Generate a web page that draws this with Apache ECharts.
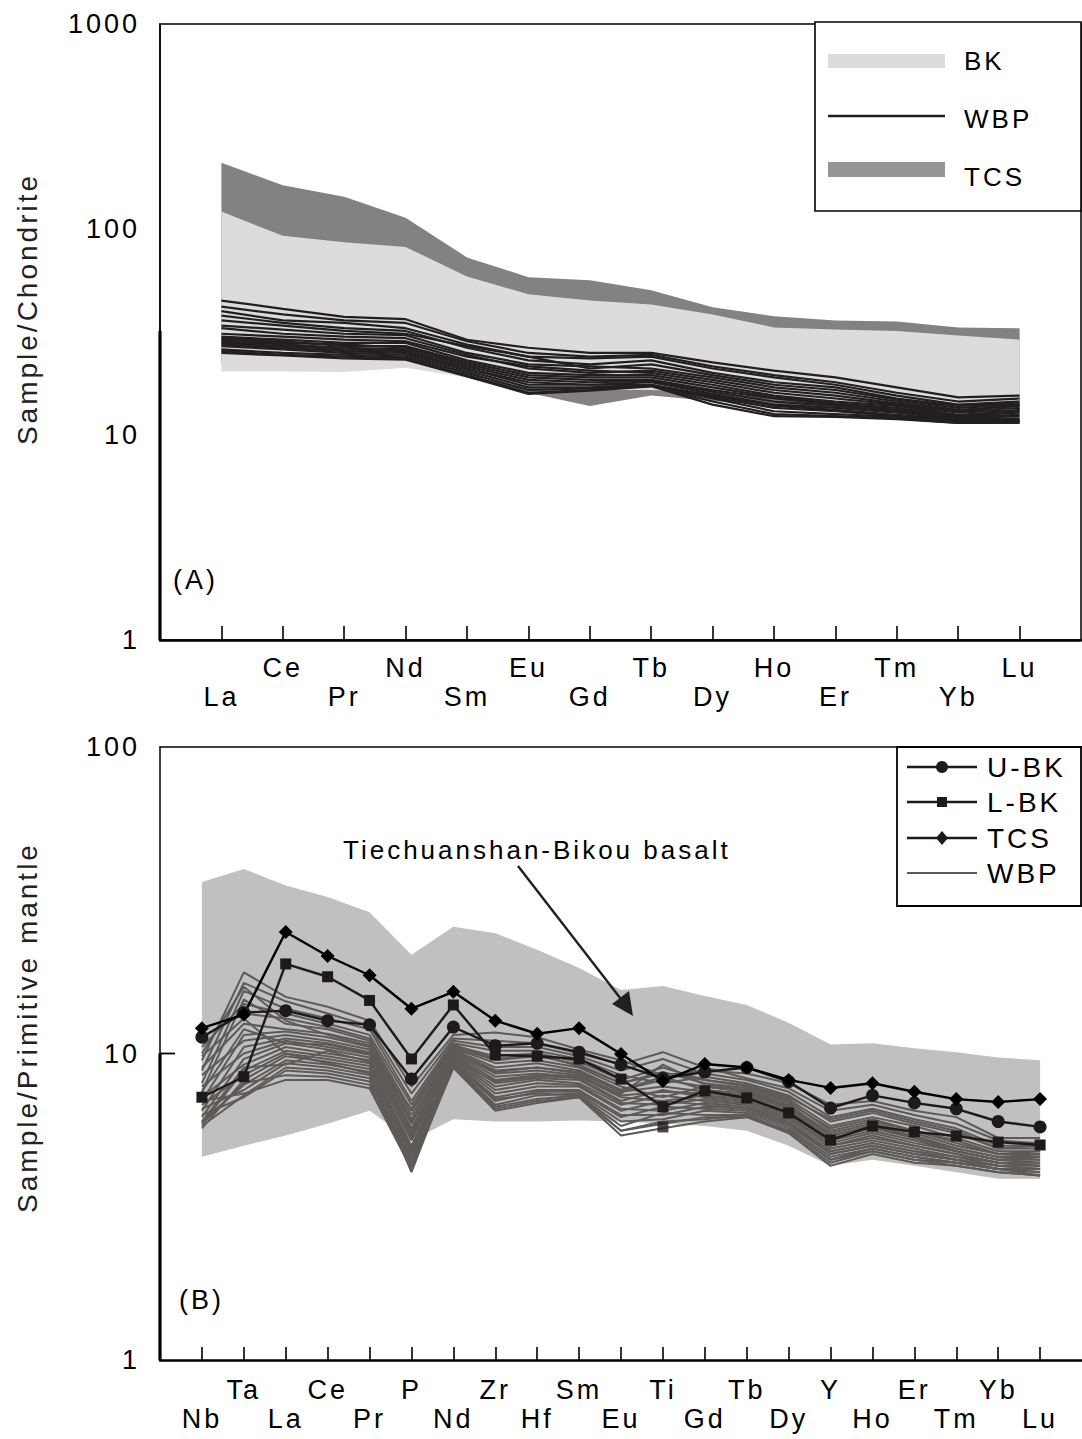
<!DOCTYPE html>
<html><head><meta charset="utf-8">
<script src="https://cdn.jsdelivr.net/npm/echarts@6.0.0/dist/echarts.min.js"></script>
<style>html,body{margin:0;padding:0;background:#fff}#c{width:1082px;height:1439px}#c text{letter-spacing:3px}</style>
</head><body><div id="c"></div><script>
// ---------- Chart A: chondrite-normalised REE ----------
const catsA = ['La','Ce','Pr','Nd','Sm','Eu','Gd','Tb','Dy','Ho','Er','Tm','Yb','Lu'];
const tcsUpper = [211,164,144,114,73,58.5,56.5,50.5,41.7,37.7,36,35.6,33.3,33];
const tcsLower = [22,22,22,22,19,16,13.8,15.5,14.6,14,13.5,13,13,13];
const bkUpper  = [122,93,86.5,82,59,48.3,45,43,38.5,33.3,32.5,32,30.4,29];
const bkLower  = [20.3,20.3,20.2,21.2,19,17,16.5,16.5,16,15,14,13.5,13.3,12.9];
const wbpA = [
 [45,41,37.5,36.5,29,26.5,25,25,22.5,20.5,19,17,15.2,15.5],
 [42,38.5,36,35,28.5,25,24,24.5,21.5,19.5,18,16,14.5,15],
 [40,36,35,33,27.5,24,23.5,24,21,19,17.5,15.5,14,14.5],
 [38,35,33,32,26.5,23,22,23,20,18,17,15,13.8,14.2],
 [36,34,32,31,27,24,21,22,19.5,17.5,16.5,14.8,13.5,14],
 [34,32.5,31,30.5,25,22,21.5,21,19,17,16,14.5,13.2,13.8],
 [33,31,30,29.5,24.5,21,20,20.5,18.5,16.5,15.5,14.2,13,13.5],
 [31,30,29,28.5,24,21.5,20.5,20,18,16,15,14,12.8,13.2],
 [30,29,28,28,23,20,19.5,19.5,17.5,15.5,14.5,13.8,12.5,13],
 [29.5,28.5,27,27,22.5,19.5,19,19,17,15.2,14.2,13.5,12.3,12.8],
 [29,28,27.5,26.5,22,19,18.5,18.5,16.5,15,14,13.2,12.2,12.5],
 [28.5,27.5,26.5,26,21.5,18.5,18,18.2,16.2,14.5,13.8,13,12,12.3],
 [28,27,26,25.5,21,18,17.5,18,15.8,14,13.5,12.8,11.9,12],
 [27.5,26.5,25.5,25,21,17.5,17.5,17.5,15.5,13.8,13.2,12.5,11.8,11.8],
 [27,26,25,24.5,20.5,17,17,17.5,15.2,13.5,13,12.3,11.6,11.7],
 [26,25,24.5,24,20,16.5,16.8,17.3,15,13,12.6,12.2,11.5,11.6],
 [25.5,24.5,24,23.5,19.5,16,16.5,17.3,14.5,12.6,12.3,12,11.4,11.5],
 [25,24.3,23.5,23.2,19.2,15.8,16.4,17.2,14,12.3,12.2,11.9,11.4,11.4]
];
// ---------- Chart B: primitive-mantle-normalised spidergram ----------
const catsB = ['Nb','Ta','La','Ce','Pr','P','Nd','Zr','Hf','Sm','Eu','Ti','Gd','Tb','Dy','Y','Ho','Er','Tm','Yb','Lu'];
const fieldUpper = [36.3,40,35.3,32.4,28.9,21,25.9,24.7,21.8,19,16.1,16.6,15.4,14.4,12.6,10.7,10.8,10.4,10.1,9.7,9.5];
const fieldLower = [4.6,5.0,5.4,5.9,6.5,5.2,6.1,6.0,6.0,6.05,6.0,5.9,5.8,5.6,5.0,4.3,4.5,4.3,4.1,3.9,3.9];
const uBK = [11.3,13.6,13.8,12.8,12.4,8.26,12.2,10.6,10.8,10.1,9.2,8.3,8.7,9.0,8.1,6.64,7.3,6.9,6.6,6.0,5.76];
const lBK = [7.2,8.4,19.6,17.8,14.9,9.6,14.4,9.9,9.8,9.6,8.25,6.7,7.55,7.16,6.4,5.22,5.8,5.55,5.38,5.14,5.03];
const lBKTiMarker = 5.76;
const tcsB = [12.1,13.4,24.9,20.8,18.0,14.0,15.9,12.8,11.6,12.1,9.96,8.13,9.24,9.0,8.2,7.72,8.0,7.5,7.1,6.95,7.1];
const wbpB = [
 [9.5,18.4,15.3,14.2,12.8,7.8,11.5,11.7,11.3,10.3,9.5,8.5,8.8,8.6,8.0,6.8,7.0,6.5,6.2,5.3,5.3],
 [8.8,17.0,14.8,13.5,12.3,7.4,11.2,11.0,10.8,10.0,9.2,10.1,9.0,8.3,7.7,6.5,6.8,6.3,5.9,5.2,5.1],
 [8.0,16.0,14.0,13.0,12.0,7.0,11.0,10.5,10.5,9.8,8.8,9.6,8.6,8.2,7.5,6.2,6.6,6.1,5.7,5.0,5.0],
 [10.5,14.5,13.5,12.5,11.5,6.8,10.8,10.2,10.2,9.6,8.5,8.0,8.4,8.0,7.3,6.0,6.4,5.9,5.5,4.9,4.9],
 [11.3,13.5,13.0,12.2,11.2,6.5,10.6,9.8,10.0,9.4,8.2,9.0,8.2,7.8,7.1,5.8,6.2,5.8,5.3,4.8,4.8],
 [7.5,15.0,12.5,12.0,11.0,6.3,10.5,9.5,9.8,9.2,8.0,8.7,8.0,7.7,7.0,5.6,6.0,5.6,5.1,4.7,4.7],
 [9.0,12.5,12.0,11.6,10.8,6.1,10.4,9.3,9.5,9.0,7.8,7.2,7.8,7.5,6.8,5.5,5.9,5.5,5.0,4.7,4.6],
 [7.0,11.5,11.8,11.3,10.5,5.9,10.3,9.0,9.3,8.8,7.6,8.4,7.6,7.4,6.7,5.4,5.8,5.4,4.9,4.6,4.6],
 [8.5,11.0,11.5,11.0,10.3,5.7,10.2,8.8,9.0,8.6,7.5,7.8,7.5,7.3,6.6,5.3,5.7,5.3,4.9,4.6,4.5],
 [6.5,10.5,11.2,10.8,10.1,5.6,10.1,8.6,8.8,8.5,7.3,7.5,7.4,7.2,6.5,5.2,5.6,5.2,4.8,4.5,4.5],
 [7.8,10.0,11.0,10.5,9.9,5.5,10.0,8.4,8.6,8.4,7.2,7.0,7.3,7.1,6.4,5.1,5.5,5.1,4.8,4.5,4.4],
 [6.2,9.6,10.8,10.3,9.7,5.3,9.9,8.2,8.5,8.3,7.0,7.6,7.2,7.0,6.3,5.0,5.4,5.0,4.7,4.4,4.4],
 [7.2,9.2,10.5,10.0,9.5,5.2,9.8,8.0,8.3,8.2,6.9,6.8,7.1,6.9,6.2,5.0,5.3,5.0,4.7,4.4,4.3],
 [5.9,8.8,10.2,9.8,9.3,5.0,9.7,7.8,8.2,8.0,6.8,7.3,7.0,6.8,6.1,4.9,5.2,4.9,4.6,4.4,4.3],
 [6.8,8.5,10.0,9.6,9.1,4.9,9.6,7.6,8.0,7.9,6.6,6.5,6.9,6.7,6.0,4.8,5.1,4.8,4.6,4.3,4.3],
 [5.7,8.2,9.8,9.4,8.9,4.8,9.5,7.4,7.8,7.8,6.5,7.0,6.8,6.6,5.9,4.8,5.1,4.8,4.5,4.3,4.2],
 [6.0,7.9,9.5,9.2,8.7,4.7,9.4,7.2,7.6,7.6,6.3,6.3,6.7,6.6,5.9,4.7,5.0,4.7,4.5,4.3,4.2],
 [6.6,7.6,9.3,9.0,8.5,4.6,9.3,7.0,7.5,7.5,6.2,6.7,6.6,6.5,5.8,4.7,5.0,4.7,4.5,4.2,4.2],
 [5.8,7.3,9.0,8.8,8.3,4.5,9.2,6.8,7.3,7.4,6.0,6.1,6.5,6.4,5.7,4.6,4.9,4.6,4.4,4.2,4.1],
 [6.3,7.2,8.8,8.6,8.1,4.4,9.1,6.7,7.1,7.3,5.8,6.4,6.3,6.3,5.6,4.5,4.9,4.6,4.4,4.2,4.1],
 [5.9,8.0,8.5,8.4,7.9,4.3,9.0,6.6,7.0,7.2,5.6,5.9,6.2,6.2,5.6,4.5,4.8,4.5,4.4,4.2,4.0],
 [7.0,7.4,8.2,8.2,7.7,4.2,9.0,6.5,6.9,7.2,5.4,5.7,6.0,6.2,5.5,4.4,4.8,4.5,4.3,4.1,4.0],
 [9.8,13.0,10.0,9.3,8.6,4.1,9.3,7.1,7.4,7.3,5.6,6.0,6.1,6.3,5.5,4.3,4.7,4.4,4.3,4.1,4.0],
 [10.0,16.5,12.8,11.5,10.6,6.0,10.0,8.7,9.0,8.7,7.6,8.2,7.8,7.5,6.7,5.4,5.8,5.3,4.8,4.5,4.6],
 [6.0,9.0,9.2,10.2,9.4,5.4,9.6,8.1,8.4,8.4,7.4,9.2,7.9,7.6,6.9,5.7,6.1,5.6,5.2,4.7,4.8],
 [7.5,12.0,10.8,10.7,10.0,6.6,10.7,9.6,9.9,9.1,8.0,8.6,8.2,7.9,7.2,6.1,6.5,6.0,5.6,4.9,5.0]
];

const FONT = "'Liberation Sans', Arial, Helvetica, sans-serif";
const BLACK = '#1e1a1a';
const toPts = arr => arr.map((v, i) => [i + 1, v]);
const band = (upper, lower, color) => function (params, api) {
  const pts = [];
  for (let i = 0; i < upper.length; i++) pts.push(api.coord([i + 1, upper[i]]));
  for (let i = lower.length - 1; i >= 0; i--) pts.push(api.coord([i + 1, lower[i]]));
  return { type: 'polygon', shape: { points: pts }, style: { fill: color } };
};
const rng = n => Array.from({ length: n }, (_, i) => i + 1);

const chart = echarts.init(document.getElementById('c'), null, { renderer: 'svg' });

const series = [];
series.push({ type: 'custom', xAxisIndex: 0, yAxisIndex: 0, z: 1, silent: true,
  renderItem: band(tcsUpper, tcsLower, '#828282'), data: [[1, 10]] });
series.push({ type: 'custom', xAxisIndex: 0, yAxisIndex: 0, z: 2, silent: true,
  renderItem: band(bkUpper, bkLower, '#dcdcdc'), data: [[1, 10]] });
wbpA.forEach(arr => series.push({ type: 'line', name: 'WBP', xAxisIndex: 0, yAxisIndex: 0, z: 3,
  symbol: 'none', silent: true, lineStyle: { color: '#231f20', width: 2.2 }, data: toPts(arr) }));

series.push({ type: 'custom', xAxisIndex: 1, yAxisIndex: 1, z: 1, silent: true,
  renderItem: band(fieldUpper, fieldLower, '#c0c0c0'), data: [[1, 10]] });
wbpB.forEach(arr => series.push({ type: 'line', name: 'WBP', xAxisIndex: 1, yAxisIndex: 1, z: 2,
  symbol: 'none', silent: true, lineStyle: { color: '#5e5a58', width: 2 }, data: toPts(arr) }));
series.push({ type: 'line', name: 'L-BK', xAxisIndex: 1, yAxisIndex: 1, z: 4, silent: true,
  symbol: 'rect', symbolSize: 11, itemStyle: { color: BLACK }, lineStyle: { color: BLACK, width: 2.4 }, data: toPts(lBK) });
series.push({ type: 'scatter', name: 'L-BK', xAxisIndex: 1, yAxisIndex: 1, z: 4, silent: true,
  symbol: 'rect', symbolSize: 11, itemStyle: { color: BLACK }, data: [[12, lBKTiMarker]] });
series.push({ type: 'line', name: 'U-BK', xAxisIndex: 1, yAxisIndex: 1, z: 4, silent: true,
  symbol: 'circle', symbolSize: 13, itemStyle: { color: BLACK }, lineStyle: { color: BLACK, width: 2.4 }, data: toPts(uBK) });
series.push({ type: 'line', name: 'TCS', xAxisIndex: 1, yAxisIndex: 1, z: 4, silent: true,
  symbol: 'diamond', symbolSize: 14, itemStyle: { color: '#000' }, lineStyle: { color: '#000', width: 2.4 }, data: toPts(tcsB) });

const lbl = (cats, lowEven) => v => {
  const i = Math.round(v) - 1; const n = cats[i] || '';
  return ((i % 2 === 0) === lowEven) ? '\n' + n : n;
};
const plain = v => String(v);

chart.setOption({
  animation: false,
  grid: [
    { left: 160, right: 1, top: 24, bottom: 799, show: true, borderColor: '#000', borderWidth: 1.5, backgroundColor: 'transparent' },
    { left: 160, right: 0, top: 747, bottom: 79 }
  ],
  xAxis: [
    { type: 'value', gridIndex: 0, min: 0, max: 15, interval: 1, splitLine: { show: false },
      axisLine: { lineStyle: { color: '#000', width: 2.5 } },
      axisTick: { inside: true, length: 14, customValues: rng(catsA.length), lineStyle: { color: '#000', width: 1.6 } },
      axisLabel: { customValues: rng(catsA.length), formatter: lbl(catsA, true), margin: 13, lineHeight: 29,
        fontSize: 27, color: '#000', fontFamily: FONT } },
    { type: 'value', gridIndex: 1, min: 0, max: 22, interval: 1, splitLine: { show: false },
      axisLine: { lineStyle: { color: '#000', width: 2.5 } },
      axisTick: { inside: true, length: 13, customValues: rng(catsB.length), lineStyle: { color: '#000', width: 1.6 } },
      axisLabel: { customValues: rng(catsB.length), formatter: lbl(catsB, true), margin: 15, lineHeight: 29,
        fontSize: 27, color: '#000', fontFamily: FONT } },
    { type: 'value', gridIndex: 1, position: 'top', min: 0, max: 22, splitLine: { show: false },
      axisLine: { lineStyle: { color: '#000', width: 1.5 } }, axisTick: { show: false }, axisLabel: { show: false } }
  ],
  yAxis: [
    { type: 'log', gridIndex: 0, logBase: 10, min: 1, max: 1000, splitLine: { show: false },
      axisLine: { show: true, lineStyle: { color: '#000', width: 1.5 } }, axisTick: { show: false },
      axisLabel: { margin: 20, fontSize: 27, color: '#000', fontFamily: FONT, formatter: plain },
      name: 'Sample/Chondrite', nameLocation: 'middle', nameGap: 119,
      nameTextStyle: { fontSize: 28, color: '#222', fontFamily: FONT, padding: [0, 0, 0, 46] } },
    { type: 'log', gridIndex: 1, logBase: 10, min: 1, max: 100, splitLine: { show: false },
      axisLine: { show: true, lineStyle: { color: '#000', width: 1.5 } }, axisTick: { show: false },
      axisLabel: { margin: 20, fontSize: 27, color: '#000', fontFamily: FONT, formatter: plain },
      name: 'Sample/Primitive mantle', nameLocation: 'middle', nameGap: 119,
      nameTextStyle: { fontSize: 28, color: '#222', fontFamily: FONT, padding: [0, 0, 0, 52] } }
  ],
  series: series
});

// decorations: thick lower y-axis segments, inner tick, legends, labels, annotation arrow
const pA0 = chart.convertToPixel({ gridIndex: 0 }, [0, 32]);
const pA1 = chart.convertToPixel({ gridIndex: 0 }, [0, 1]);
const pB0 = chart.convertToPixel({ gridIndex: 1 }, [0, 10]);
const pB1 = chart.convertToPixel({ gridIndex: 1 }, [0, 1]);
const txt = (x, y, s, size) => ({ type: 'text', x: x, y: y, z: 100,
  style: { text: s, fontSize: size, fontFamily: FONT, fill: '#000', textVerticalAlign: 'middle', verticalAlign: 'middle' } });
chart.setOption({
  graphic: [
    { type: 'line', z: 100, shape: { x1: pA0[0], y1: pA0[1], x2: pA1[0], y2: pA1[1] }, style: { stroke: '#000', lineWidth: 3.2 } },
    { type: 'line', z: 100, shape: { x1: pB0[0], y1: pB0[1], x2: pB1[0], y2: pB1[1] }, style: { stroke: '#000', lineWidth: 3.2 } },
    { type: 'line', z: 100, shape: { x1: pB0[0], y1: pB0[1], x2: pB0[0] + 15, y2: pB0[1] }, style: { stroke: '#000', lineWidth: 1.8 } },
    // legend A
    { type: 'rect', z: 100, shape: { x: 815, y: 22, width: 266, height: 189 }, style: { fill: '#fff', stroke: '#000', lineWidth: 1.6 } },
    { type: 'rect', z: 101, shape: { x: 828, y: 54, width: 117, height: 14 }, style: { fill: '#dcdcdc' } },
    { type: 'line', z: 101, shape: { x1: 828, y1: 116, x2: 945, y2: 116 }, style: { stroke: '#231f20', lineWidth: 2.6 } },
    { type: 'rect', z: 101, shape: { x: 828, y: 162, width: 117, height: 15 }, style: { fill: '#969696' } },
    txt(964, 61, 'BK', 26), txt(964, 119, 'WBP', 26), txt(964, 177, 'TCS', 26),
    txt(173, 580, '(A)', 27),
    // legend B
    { type: 'rect', z: 100, shape: { x: 897, y: 747, width: 184, height: 159 }, style: { fill: '#fff', stroke: '#000', lineWidth: 1.8 } },
    { type: 'line', z: 101, shape: { x1: 907, y1: 767, x2: 977, y2: 767 }, style: { stroke: BLACK, lineWidth: 2.6 } },
    { type: 'circle', z: 102, shape: { cx: 942, cy: 767, r: 6 }, style: { fill: BLACK } },
    { type: 'line', z: 101, shape: { x1: 907, y1: 802, x2: 977, y2: 802 }, style: { stroke: BLACK, lineWidth: 2.6 } },
    { type: 'rect', z: 102, shape: { x: 937, y: 797, width: 10, height: 10 }, style: { fill: BLACK } },
    { type: 'line', z: 101, shape: { x1: 907, y1: 838, x2: 977, y2: 838 }, style: { stroke: BLACK, lineWidth: 2.6 } },
    { type: 'polygon', z: 102, shape: { points: [[942, 831], [948, 838], [942, 845], [936, 838]] }, style: { fill: BLACK } },
    { type: 'line', z: 101, shape: { x1: 907, y1: 873, x2: 977, y2: 873 }, style: { stroke: '#5e5a58', lineWidth: 2.2 } },
    txt(987, 767, 'U-BK', 28), txt(987, 802, 'L-BK', 28), txt(987, 838, 'TCS', 28), txt(987, 873, 'WBP', 28),
    txt(179, 1300, '(B)', 27),
    // annotation
    txt(343, 850, 'Tiechuanshan-Bikou basalt', 26),
    { type: 'line', z: 100, shape: { x1: 518, y1: 866, x2: 624, y2: 1003 }, style: { stroke: '#231f20', lineWidth: 2.4 } },
    { type: 'polygon', z: 100, shape: { points: [[633, 1016], [612, 1004], [629, 991]] }, style: { fill: '#231f20' } }
  ]
});
</script></body></html>
